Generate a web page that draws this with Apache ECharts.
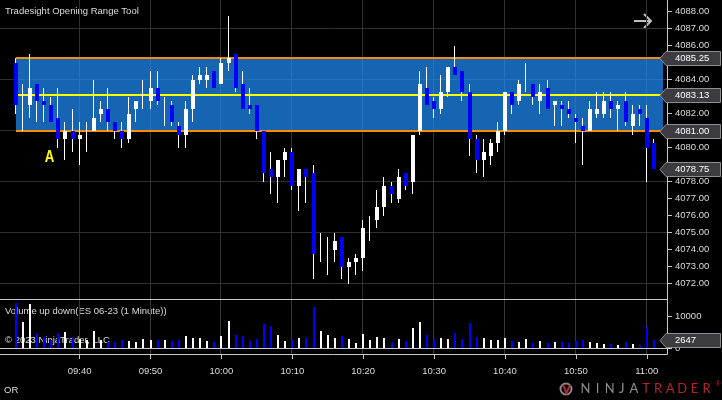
<!DOCTYPE html>
<html><head><meta charset="utf-8">
<script src="https://cdn.jsdelivr.net/npm/echarts@6/dist/echarts.min.js"></script>
<style>html,body{margin:0;padding:0;background:#000;}#c{width:722px;height:400px;}</style>
</head><body><div id="c"></div>
<script>
// ---- data (1-minute bars 09:31 .. 11:01, ES 06-23) ----
const openP  = [4085.0,4082.5,4082.5,4083.75,4082.75,4082.5,4081.75,4080.5,4081.0,4080.5,
                4080.75,4081.0,4082.0,4082.25,4081.5,4081.0,4080.5,4082.25,4083.0,4082.75,
                4083.5,4082.0,4082.5,4081.25,4080.75,4082.25,4084.0,4084.0,4084.5,4083.75,
                4085.0,4085.5,4083.75,4082.5,4082.5,4081.0,4078.75,4078.25,4079.25,4079.75,
                4077.75,4078.75,4078.5,4074.0,4073.5,4074.0,4074.75,4073.0,4073.25,4073.5,
                4075.25,4075.75,4076.5,4077.75,4077.0,4078.5,4078.0,4081.0,4083.5,4082.75,
                4082.25,4083.25,4084.75,4084.5,4083.25,4080.5,4079.25,4079.5,4080.25,4081.0,
                4083.25,4082.75,4084.0,4083.75,4082.75,4083.5,4082.5,4082.5,4082.25,4081.75,
                4081.25,4081.0,4082.0,4082.0,4082.75,4082.25,4082.75,4081.25,4082.25,4081.75,
                4080.25];
const highP  = [4085.25,4083.75,4085.5,4083.75,4083.5,4083.0,4083.5,4081.5,4082.25,4081.5,
                4081.5,4084.0,4082.75,4083.5,4081.5,4081.5,4083.0,4082.75,4084.0,4084.5,
                4084.5,4083.0,4082.75,4081.5,4082.75,4084.25,4084.75,4084.75,4084.5,4085.25,
                4087.75,4085.5,4084.5,4083.5,4082.5,4081.0,4079.75,4079.25,4080.0,4080.0,
                4078.75,4078.75,4079.0,4075.0,4074.75,4075.0,4074.75,4073.5,4073.75,4075.75,
                4076.0,4077.5,4078.25,4078.0,4078.75,4078.5,4080.75,4084.5,4084.75,4083.0,
                4084.25,4084.75,4086.0,4084.5,4083.75,4080.75,4080.5,4080.5,4081.5,4083.25,
                4083.25,4084.0,4085.0,4083.75,4083.75,4084.0,4082.75,4082.75,4082.75,4082.0,
                4081.75,4082.75,4083.25,4083.25,4083.25,4082.75,4083.25,4082.5,4082.5,4082.5,
                4080.5];
const lowP   = [4082.0,4081.0,4081.75,4081.5,4081.5,4081.5,4080.0,4079.25,4079.75,4079.0,
                4079.75,4081.0,4081.5,4081.0,4080.5,4080.0,4080.25,4081.5,4082.25,4082.25,
                4082.5,4081.25,4081.25,4080.0,4080.0,4081.5,4083.75,4083.5,4083.5,4083.75,
                4084.5,4083.25,4082.25,4082.0,4080.5,4078.0,4077.25,4076.75,4078.25,4077.5,
                4076.25,4076.75,4072.25,4073.25,4072.5,4073.25,4072.25,4072.0,4072.5,4072.75,
                4074.5,4075.25,4076.0,4076.75,4076.75,4077.5,4077.25,4080.75,4082.5,4081.75,
                4082.0,4083.0,4084.25,4082.75,4079.5,4078.5,4078.25,4079.0,4079.75,4080.75,
                4082.0,4082.5,4083.25,4082.5,4082.0,4082.25,4081.25,4081.25,4081.75,4080.25,
                4079.0,4081.0,4081.75,4081.75,4081.75,4081.0,4081.25,4080.75,4081.25,4078.0,
                4078.75];
const closeP = [4082.5,4082.5,4083.5,4082.75,4082.5,4081.5,4080.5,4081.0,4080.5,4080.75,
                4080.75,4081.75,4082.25,4081.5,4081.0,4080.5,4082.0,4082.75,4083.0,4083.5,
                4082.75,4082.0,4081.5,4080.75,4082.25,4084.0,4084.25,4084.25,4083.5,4085.0,
                4085.25,4083.5,4082.25,4082.25,4081.0,4078.5,4078.25,4079.25,4079.75,4077.75,
                4078.75,4078.25,4073.75,4074.0,4073.5,4074.5,4073.0,4073.25,4073.5,4075.25,
                4075.25,4076.5,4077.75,4077.25,4078.25,4077.75,4080.75,4083.75,4082.5,4082.25,
                4083.25,4084.75,4084.25,4083.25,4080.5,4079.25,4079.75,4080.25,4081.0,4083.25,
                4082.5,4083.75,4084.0,4083.0,4083.25,4082.25,4082.75,4082.25,4082.0,4081.5,
                4081.0,4082.25,4082.25,4082.75,4082.25,4082.5,4081.5,4082.0,4082.0,4080.0,
                4078.75];
const volume = [14000,8100,13700,4700,3500,2500,4700,5000,3500,2700,
                2500,5300,2500,2000,2000,2500,2300,2000,2800,2500,
                2500,2500,2200,2500,3700,3200,3200,2200,2000,3700,
                8400,4100,3700,2200,2800,7500,7000,4100,2200,2500,
                3100,3100,12800,5300,4100,3100,3700,2800,1700,4400,
                2500,3400,3100,1600,2800,2200,6200,8100,4100,2800,
                3100,2800,4700,2800,7800,3400,3100,2500,2500,3100,
                2200,1900,2800,1600,2200,1600,1900,1900,1600,2200,
                2500,1900,1600,1250,1250,950,1900,1250,950,6500,
                2647];
const timeTickIdx    = [9,19,29,39,49,59,69,79,89];
const timeTickLabels = ['09:40','09:50','10:00','10:10','10:20','10:30','10:40','10:50','11:00'];
const priceTicks      = [4072,4073,4074,4075,4076,4077,4078,4079,4080,4081,4082,4083,4084,4085,4086,4087,4088];
const priceLabelTicks = [4072,4073,4074,4075,4076,4077,4078,4080,4082,4084,4086,4087,4088];
const priceGridLines  = [4072,4075,4078,4081,4084,4087];
const volumeTicks     = [0,10000];
const orHigh = 4085.25, orMid = 4083.13, orLow = 4081.00;
const lastClose  = closeP[closeP.length - 1];
const lastVolume = volume[volume.length - 1];

// ---- layout ----
const XMIN = -2.23, XMAX = 91.85, BAND_END = 91.33;
const YMAX = 4088.69, YMIN = 4071.10;
const VMIN = -1875, VMAX = 15312.5;
const FONT = 'Liberation Sans, Arial, sans-serif';
const TXT = '#dcdcdc';
const AX = '#c8c8c8';
const GRIDC = '#303030';

const chart = echarts.init(document.getElementById('c'), null, {renderer: 'canvas'});

function tagSeries(xAxisIndex, yAxisIndex, items, fmt) {
  return {
    type: 'custom', xAxisIndex, yAxisIndex, z: 20, silent: true, clip: false,
    data: items.map(v => [XMAX, v]),
    renderItem(params, api) {
      const cs = params.coordSys;
      const x0 = cs.x + cs.width;
      const y = Math.round(api.coord([XMAX, api.value(1)])[1]) + 0.5;
      return {
        type: 'group', children: [
          {type: 'polygon', shape: {points: [[x0 - 7, y], [x0 - 1, y - 7], [x0 + 53.5, y - 7], [x0 + 53.5, y + 7], [x0 - 1, y + 7]]},
           style: {fill: '#3c3c40', stroke: '#8e8e8e', lineWidth: 1}},
          {type: 'text', x: x0 + 8, y: y, style: {text: fmt(api.value(1)), fill: '#ffffff', font: '9.5px ' + FONT, align: 'left', verticalAlign: 'middle'}}
        ]
      };
    }
  };
}

const option = {
  backgroundColor: '#000000',
  animation: false,
  textStyle: {fontFamily: FONT},
  grid: [
    {left: 0, right: 55, top: 0, height: 299},
    {left: 0, right: 55, top: 299, height: 55}
  ],
  xAxis: [
    {gridIndex: 0, type: 'value', min: XMIN, max: XMAX, show: false},
    {gridIndex: 1, type: 'value', min: XMIN, max: XMAX, position: 'bottom',
     axisLine: {show: true, onZero: false, lineStyle: {color: AX}},
     axisTick: {show: true, customValues: timeTickIdx, length: 5, lineStyle: {color: AX}},
     axisLabel: {customValues: timeTickIdx, formatter: v => timeTickLabels[timeTickIdx.indexOf(Math.round(v))] || '',
                 color: TXT, fontSize: 9.5, margin: 12},
     splitLine: {show: false}}
  ],
  yAxis: [
    {gridIndex: 0, type: 'value', position: 'right', min: YMIN, max: YMAX,
     axisLine: {show: true, onZero: false, lineStyle: {color: AX}},
     axisTick: {show: true, customValues: priceTicks, length: 5, lineStyle: {color: AX}},
     axisLabel: {customValues: priceLabelTicks, formatter: v => v.toFixed(2), color: TXT, fontSize: 9.5, margin: 8},
     splitLine: {show: false}},
    {gridIndex: 1, type: 'value', position: 'right', min: VMIN, max: VMAX,
     axisLine: {show: true, onZero: false, lineStyle: {color: AX}},
     axisTick: {show: true, customValues: volumeTicks, length: 5, lineStyle: {color: AX}},
     axisLabel: {customValues: volumeTicks, formatter: v => String(v), color: TXT, fontSize: 9.5, margin: 8},
     splitLine: {show: false}}
  ],
  series: [
    // horizontal price gridlines
    {type: 'custom', xAxisIndex: 0, yAxisIndex: 0, z: 1, silent: true,
     data: priceGridLines.map(v => [0, v]),
     renderItem(params, api) {
       const cs = params.coordSys;
       const y = Math.round(api.coord([0, api.value(1)])[1]) - 0.5;
       return {type: 'line', shape: {x1: cs.x, y1: y, x2: cs.x + cs.width, y2: y}, style: {stroke: GRIDC, lineWidth: 1}};
     }},
    // vertical time gridlines (price panel)
    {type: 'custom', xAxisIndex: 0, yAxisIndex: 0, z: 1, silent: true,
     data: timeTickIdx.map(i => [i, YMIN]),
     renderItem(params, api) {
       const cs = params.coordSys;
       const x = Math.round(api.coord([api.value(0), YMIN])[0]) - 0.5;
       return {type: 'line', shape: {x1: x, y1: cs.y, x2: x, y2: cs.y + cs.height}, style: {stroke: GRIDC, lineWidth: 1}};
     }},
    // vertical time gridlines (volume panel)
    {type: 'custom', xAxisIndex: 1, yAxisIndex: 1, z: 1, silent: true,
     data: timeTickIdx.map(i => [i, 0]),
     renderItem(params, api) {
       const cs = params.coordSys;
       const x = Math.round(api.coord([api.value(0), 0])[0]) - 0.5;
       return {type: 'line', shape: {x1: x, y1: cs.y, x2: x, y2: cs.y + cs.height}, style: {stroke: '#383838', lineWidth: 1}};
     }},
    // opening range band
    {type: 'custom', xAxisIndex: 0, yAxisIndex: 0, z: 2, silent: true,
     data: [[0, orHigh, orMid, orLow]],
     renderItem(params, api) {
       const x1 = Math.round(api.coord([api.value(0), orHigh])[0]);
       const x2 = Math.round(api.coord([BAND_END, orHigh])[0]);
       const yH = Math.round(api.coord([0, api.value(1)])[1]);
       const yM = Math.round(api.coord([0, api.value(2)])[1]);
       const yL = Math.round(api.coord([0, api.value(3)])[1]);
       return {type: 'group', children: [
         {type: 'rect', shape: {x: x1, y: yH, width: x2 - x1, height: yL - yH}, style: {fill: 'rgba(30,144,255,0.7)'}},
         {type: 'line', shape: {x1: x1, y1: yH, x2: x2, y2: yH}, style: {stroke: '#ff8c00', lineWidth: 2}},
         {type: 'line', shape: {x1: x1, y1: yL, x2: x2, y2: yL}, style: {stroke: '#ff8c00', lineWidth: 2}},
         {type: 'line', shape: {x1: x1, y1: yM, x2: x2, y2: yM}, style: {stroke: '#ffff00', lineWidth: 2}}
       ]};
     }},
    // candles
    {type: 'custom', name: 'ES 06-23', xAxisIndex: 0, yAxisIndex: 0, z: 5, silent: true,
     data: openP.map((o, i) => [i, o, closeP[i], lowP[i], highP[i]]),
     encode: {x: 0, y: [1, 2, 3, 4]},
     renderItem(params, api) {
       const i = api.value(0), o = api.value(1), c = api.value(2), l = api.value(3), h = api.value(4);
       const xr = Math.round(api.coord([i, o])[0]);
       const yo = Math.round(api.coord([i, o])[1]), yc = Math.round(api.coord([i, c])[1]);
       const yl = Math.round(api.coord([i, l])[1]), yh = Math.round(api.coord([i, h])[1]);
       const children = [{type: 'rect', shape: {x: xr - 1, y: yh, width: 1, height: Math.max(1, yl - yh)}, style: {fill: '#ffffff'}}];
       const top = Math.min(yo, yc), bot = Math.max(yo, yc);
       if (bot > top) children.push({type: 'rect', shape: {x: xr - 2, y: top, width: 4, height: bot - top}, style: {fill: c >= o ? '#ffffff' : '#0000ff'}});
       return {type: 'group', children};
     }},
    // volume frame: zero line and panel separator
    {type: 'custom', xAxisIndex: 1, yAxisIndex: 1, z: 3, silent: true,
     data: [[0, 0]],
     renderItem(params, api) {
       const cs = params.coordSys;
       const y0 = Math.round(api.coord([0, api.value(1)])[1]) + 0.5;
       const yt = Math.round(cs.y) + 0.5;
       return {type: 'group', children: [
         {type: 'line', shape: {x1: cs.x, y1: y0, x2: cs.x + cs.width, y2: y0}, style: {stroke: AX, lineWidth: 1}},
         {type: 'line', shape: {x1: cs.x, y1: yt, x2: cs.x + cs.width, y2: yt}, style: {stroke: AX, lineWidth: 1}}
       ]};
     }},
    // volume bars
    {type: 'custom', name: 'Volume', xAxisIndex: 1, yAxisIndex: 1, z: 5, silent: true,
     data: volume.map((v, i) => [i, v, closeP[i] >= openP[i] ? 1 : 0]),
     renderItem(params, api) {
       const i = api.value(0), v = api.value(1);
       const p0 = api.coord([i, 0]), p1 = api.coord([i, v]);
       const xr = Math.round(p0[0]);
       const yb = Math.round(p0[1]), yt = Math.round(p1[1]);
       return {type: 'rect', shape: {x: xr - 1, y: yt, width: 2, height: yb - yt}, style: {fill: api.value(2) ? '#ffffff' : '#0000ff'}};
     }},
    tagSeries(0, 0, [orHigh, orMid, orLow, lastClose], v => v.toFixed(2)),
    tagSeries(1, 1, [lastVolume], v => String(Math.round(v)))
  ],
  graphic: [
    {type: 'text', x: 5, y: 11, silent: true, style: {text: 'Tradesight Opening Range Tool', fill: TXT, font: '9.5px ' + FONT, verticalAlign: 'middle'}},
    {type: 'text', x: 49.5, y: 157.5, scaleX: 0.78, silent: true, style: {text: 'A', fill: '#ffff00', font: 'bold 17px ' + FONT, align: 'center', verticalAlign: 'middle'}},
    {type: 'text', x: 5, y: 311, silent: true, style: {text: 'Volume up down(ES 06-23 (1 Minute))', fill: TXT, font: '9.5px ' + FONT, verticalAlign: 'middle'}},
    {type: 'text', x: 5, y: 340.5, silent: true, style: {text: '\u00a9 2023 NinjaTrader, LLC', fill: TXT, font: '9.5px ' + FONT, verticalAlign: 'middle'}},
    {type: 'text', x: 4, y: 390.5, silent: true, style: {text: 'OR', fill: TXT, font: '9.5px ' + FONT, verticalAlign: 'middle'}},
    // arrow top right
    {type: 'polyline', silent: true, shape: {points: [[634, 21], [651, 21]]}, style: {stroke: '#c0c0c0', lineWidth: 2}},
    {type: 'polyline', silent: true, shape: {points: [[644, 14], [651, 21], [644, 28]]}, style: {stroke: '#c0c0c0', lineWidth: 2, fill: null}},
    // NinjaTrader logo
    {type: 'circle', silent: true, shape: {cx: 566, cy: 389, r: 5.5}, style: {stroke: '#8a8a8a', lineWidth: 2, fill: null}},
    {type: 'polyline', silent: true, shape: {points: [[563, 385], [566.5, 393], [570, 385]]}, style: {stroke: '#b3262c', lineWidth: 2, fill: null}},
    ...'NINJATRADER'.split('').map((ch, k) => ({
      type: 'text', x: 585.5 + k * 12.1, y: 389, silent: true,
      style: {text: ch, fill: k < 5 ? '#8f8f8f' : '#b3262c', font: '13px Lato, ' + FONT, align: 'center', verticalAlign: 'middle'}
    })),
    {type: 'text', x: 718, y: 384, silent: true, style: {text: '\u00ae', fill: '#b3262c', font: '7px ' + FONT, align: 'center', verticalAlign: 'middle'}}
  ]
};
chart.setOption(option);
</script>
</body></html>
